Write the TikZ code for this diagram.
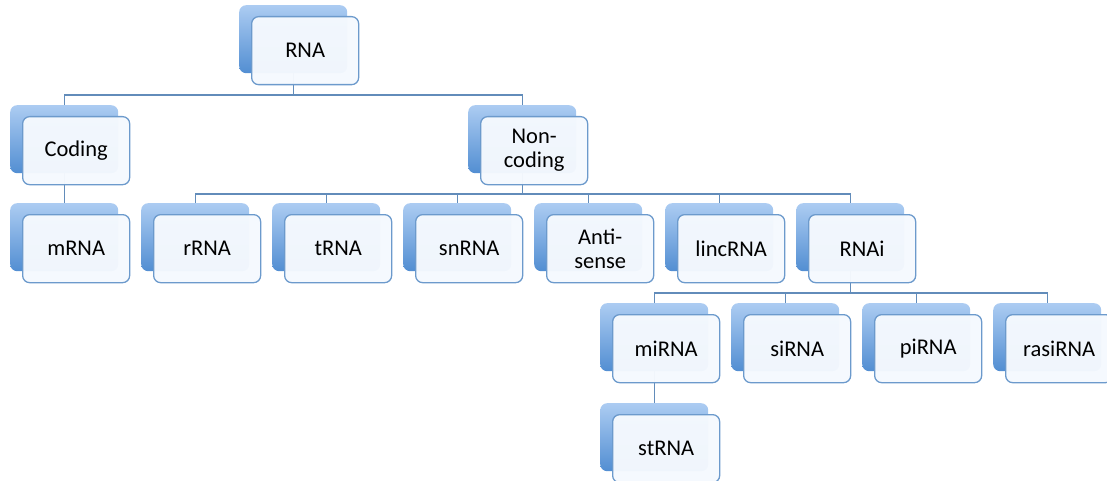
\documentclass[tikz,border=0pt]{standalone}
\usepackage{fontspec}
\setmainfont{Carlito}
\definecolor{backtop}{RGB}{172,204,242}
\definecolor{backbot}{RGB}{82,142,210}
\definecolor{frontfill}{RGB}{245,249,254}
\definecolor{frontdraw}{RGB}{108,154,204}
\definecolor{linkcol}{RGB}{98,140,186}
\tikzset{
  backbox/.style={anchor=north west, minimum width=108pt, minimum height=68pt, inner sep=0pt,
    rounded corners=7pt, top color=backtop, bottom color=backbot, draw=none},
  frontbox/.style={anchor=north west, minimum width=107pt, minimum height=68pt, inner sep=0pt,
    rounded corners=7pt, fill=frontfill, fill opacity=0.97, text opacity=1, draw=frontdraw, line width=1.3pt,
    align=center, text=black, font=\fontsize{22.5}{24}\selectfont},
  link/.style={draw=linkcol, line width=1.3pt}
}
\newcommand{\rnabox}[3]{%
  \node[backbox] (#1-b) at (#2,#3) {};
  \coordinate (#1-f) at (#2+12,#3+11);
}
\newcommand{\rnafront}[2]{%
  \node[frontbox] (#1) at (#1-f) {#2};
}
\begin{document}
\begin{tikzpicture}[x=1pt,y=-1pt]
\useasboundingbox (0,0) rectangle (1107,481);
\clip (0,0) rectangle (1107,481);
% back boxes
\rnabox{rna}{239}{5}
\rnabox{coding}{10}{105}
\rnabox{noncoding}{468}{105}
\rnabox{mrna}{10}{203}
\rnabox{rrna}{141}{203}
\rnabox{trna}{272}{203}
\rnabox{snrna}{403}{203}
\rnabox{anti}{534}{203}
\rnabox{linc}{665}{203}
\rnabox{rnai}{796}{203}
\rnabox{mirna}{600}{303}
\rnabox{sirna}{731}{303}
\rnabox{pirna}{862}{303}
\rnabox{rasirna}{993}{303}
\rnabox{strna}{600}{403}
% level coordinates
\coordinate (h1) at (0,95);
\coordinate (h2) at (0,194);
\coordinate (h3) at (0,293);
% connectors
\foreach \c in {coding,noncoding}
  \draw[link] (rna-b.south) -- (rna-b.south |- h1) -| (\c-b.north);
\draw[link] (coding-b.south) -- (mrna-b.north);
\foreach \c in {rrna,trna,snrna,anti,linc,rnai}
  \draw[link] (noncoding-b.south) -- (noncoding-b.south |- h2) -| (\c-b.north);
\foreach \c in {mirna,sirna,pirna,rasirna}
  \draw[link] (rnai-b.south) -- (rnai-b.south |- h3) -| (\c-b.north);
\draw[link] (mirna-b.south) -- (strna-b.north);
% front boxes
\rnafront{rna}{RNA}
\rnafront{coding}{Coding}
\rnafront{noncoding}{Non-\\coding}
\rnafront{mrna}{mRNA}
\rnafront{rrna}{rRNA}
\rnafront{trna}{tRNA}
\rnafront{snrna}{snRNA}
\rnafront{anti}{Anti-\\sense}
\rnafront{linc}{lincRNA}
\rnafront{rnai}{RNAi}
\rnafront{mirna}{miRNA}
\rnafront{sirna}{siRNA}
\rnafront{pirna}{piRNA}
\rnafront{rasirna}{rasiRNA}
\rnafront{strna}{stRNA}
\end{tikzpicture}
\end{document}
